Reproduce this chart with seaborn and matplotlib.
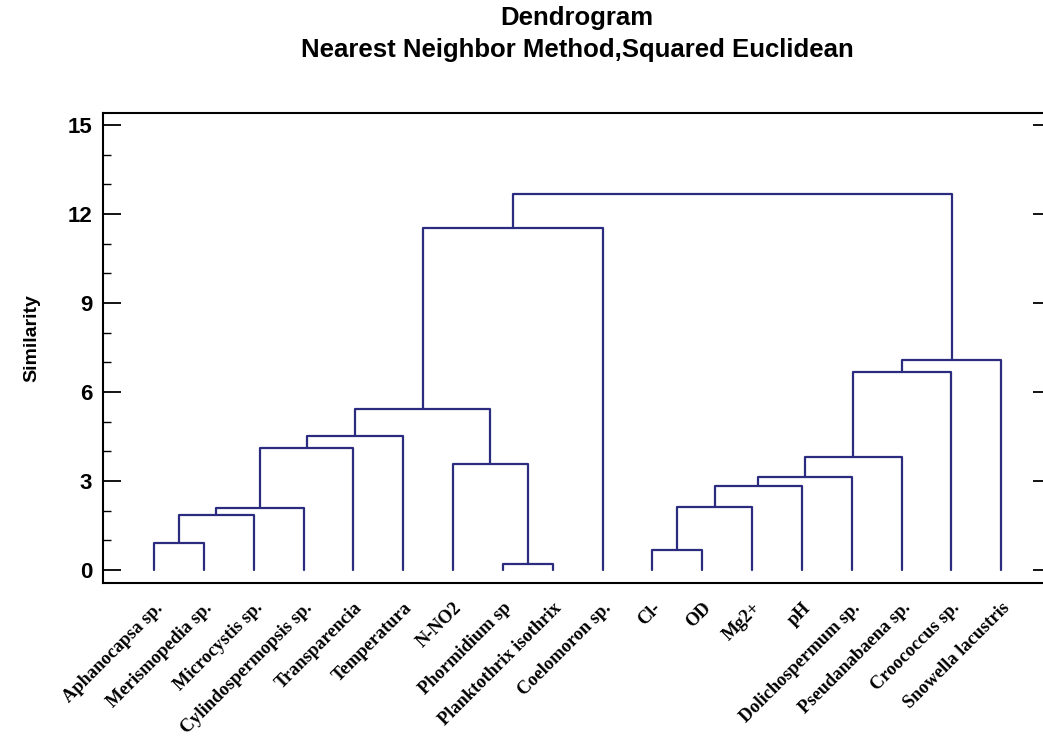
import numpy as np
import pandas as pd
import matplotlib
matplotlib.use("Agg")
import matplotlib.pyplot as plt
import seaborn as sns
from matplotlib.ticker import MultipleLocator

# leaves in dendrogram order
leaf_labels = ["Aphanocapsa sp.", "Merismopedia sp.", "Microcystis sp.",
               "Cylindospermopsis sp.", "Transparencia", "Temperatura", "N-NO2",
               "Phormidium sp", "Planktothrix isothrix", "Coelomoron sp.",
               "Cl-", "OD", "Mg2+", "pH", "Dolichospermum sp.",
               "Pseudanabaena sp.", "Croococcus sp.", "Snowella lacustris"]

# merges (ids 0-17 are leaves, new clusters get 18, 19, ...)
merge_left = [7, 10, 0, 20, 21, 19, 23, 24, 6, 25, 22, 28, 29, 27, 31, 30, 33]
merge_right = [8, 11, 1, 2, 3, 12, 13, 14, 18, 15, 4, 5, 26, 16, 17, 9, 32]
merge_height = [0.19, 0.67, 0.90, 1.85, 2.09, 2.13, 2.84, 3.12, 3.57, 3.80,
                4.11, 4.52, 5.43, 6.68, 7.09, 11.53, 12.67]

y_ticks = [0, 3, 6, 9, 12, 15]

sns.set_theme(style="white")
plt.rcParams["font.family"] = ["Liberation Sans", "DejaVu Sans"]
plt.rcParams["text.color"] = "black"
plt.rcParams["axes.labelcolor"] = "black"
plt.rcParams["xtick.color"] = "black"
plt.rcParams["ytick.color"] = "black"

# build the U shaped links
n = len(leaf_labels)
node_x = list(range(n))
node_h = [0.0] * n
rows = []
for k, (a, b, h) in enumerate(zip(merge_left, merge_right, merge_height)):
    xa, xb = node_x[a], node_x[b]
    ha, hb = node_h[a], node_h[b]
    for step, (x, y) in enumerate([(xa, ha), (xa, h), (xb, h), (xb, hb)]):
        rows.append({"merge": k, "step": step, "x": x, "y": y})
    node_x.append((xa + xb) / 2)
    node_h.append(h)
links = pd.DataFrame(rows)

fig = plt.figure(figsize=(10.43, 7.38), dpi=100)
ax = fig.add_axes([0.099, 0.2104, 0.9087, 0.6369])

sns.lineplot(data=links, x="x", y="y", units="merge", estimator=None, sort=False,
             color="#2b2b7f", lw=1.6, ax=ax)

ax.set_xlim(-1.02, 18.0)
ax.set_ylim(-0.43, 15.41)

ax.set_xticks(range(n))
ax.set_xticklabels(leaf_labels, rotation=45, ha="right", va="top", rotation_mode="anchor",
                   family="Liberation Serif", fontweight="bold", fontsize=13.2)
ax.tick_params(axis="x", length=0, pad=12)

ax.set_yticks(y_ticks)
ax.yaxis.set_minor_locator(MultipleLocator(1))
ax.tick_params(axis="y", which="major", direction="in", length=13, width=1.3,
               left=True, right=True, labelsize=16, pad=8, colors="black")
ax.tick_params(axis="y", which="minor", direction="in", length=6, width=1.0,
               left=True, right=False)
for lab in ax.get_yticklabels():
    lab.set_fontweight("bold")

for sp in ax.spines.values():
    sp.set_visible(True)
    sp.set_color("black")
    sp.set_linewidth(1.5)

ax.set_xlabel("")
ax.set_ylabel("Similarity", fontsize=14, fontweight="bold")
ax.yaxis.set_label_coords(-0.066, 0.52)

fig.text(577 / 1043, 1 - 18 / 738, "Dendrogram", ha="center", va="center",
         fontsize=18.5, fontweight="bold")
fig.text(577 / 1043, 1 - 50 / 738, "Nearest Neighbor Method,Squared Euclidean",
         ha="center", va="center", fontsize=18.5, fontweight="bold")

fig.savefig("out.png", dpi=100)
